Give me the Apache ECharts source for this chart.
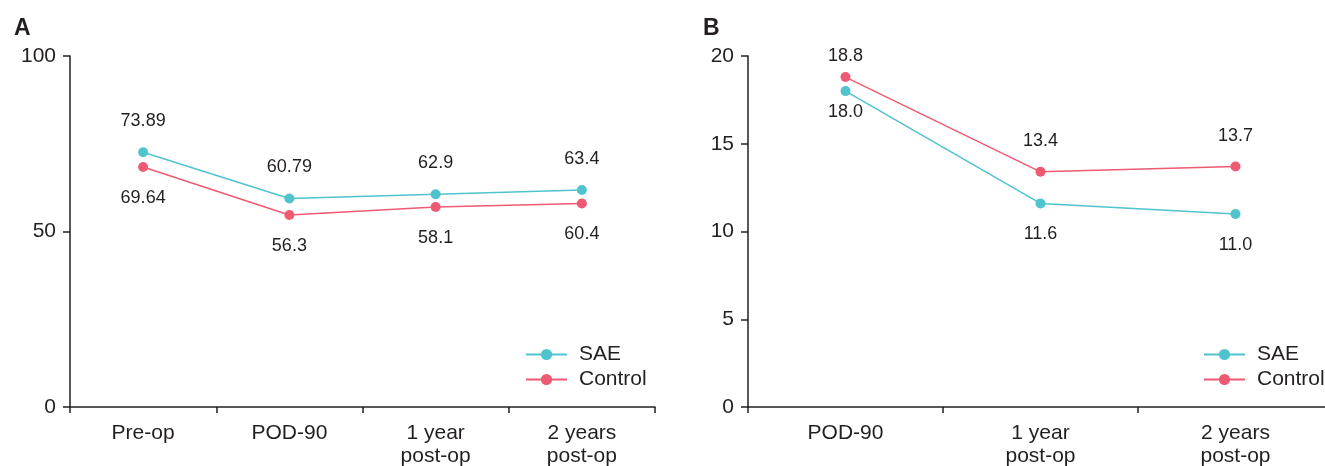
<!DOCTYPE html>
<html>
<head>
<meta charset="utf-8">
<script src="https://cdn.jsdelivr.net/npm/echarts@6/dist/echarts.min.js"></script>
<style>
html,body{margin:0;padding:0;background:#fff;}
#c{width:1325px;height:466px;}
</style>
</head>
<body>
<div id="c"></div>
<script>
// Panel A
var catsA = ['Pre-op', 'POD-90', '1 year\npost-op', '2 years\npost-op'];
var saeA = [72.6, 59.4, 60.6, 61.8];
var ctrlA = [68.4, 54.7, 57.0, 58.0];
var saeALabels = ['73.89', '60.79', '62.9', '63.4'];
var ctrlALabels = ['69.64', '56.3', '58.1', '60.4'];
var ticksA = [0, 50, 100];
// Panel B
var catsB = ['POD-90', '1 year\npost-op', '2 years\npost-op'];
var saeB = [18.0, 11.6, 11.0];
var ctrlB = [18.8, 13.4, 13.7];
var ticksB = [0, 5, 10, 15, 20];

var TEAL = '#50c3ce', RED = '#ee5a72', INK = '#231f20';
var FONT = 'Liberation Sans, Arial, sans-serif';

function xAxis(cats, gi) {
  return {
    type: 'category', gridIndex: gi, data: cats, boundaryGap: true,
    axisLine: {lineStyle: {color: INK, width: 1.5}},
    axisTick: {show: true, length: 6, lineStyle: {color: INK, width: 1.5}},
    axisLabel: {color: INK, fontSize: 21, fontFamily: FONT, lineHeight: 23, margin: 15}
  };
}
function yAxis(ticks, gi) {
  var step = ticks[1] - ticks[0];
  return {
    type: 'value', gridIndex: gi, min: ticks[0], max: ticks[ticks.length - 1], interval: step,
    axisLine: {show: true, lineStyle: {color: INK, width: 1.5}},
    axisTick: {show: true, length: 7, lineStyle: {color: INK, width: 1.5}},
    splitLine: {show: false},
    axisLabel: {color: INK, fontSize: 21, fontFamily: FONT, margin: 14}
  };
}
function lineSeries(name, color, vals, gi, pos, labels, firstDist) {
  return {
    name: name, type: 'line', xAxisIndex: gi, yAxisIndex: gi,
    symbol: 'circle', symbolSize: 10,
    itemStyle: {color: color}, lineStyle: {color: color, width: 1.5},
    data: vals.map(function (v, i) {
      var d = {value: v};
      if (i === 0 && firstDist != null) d.label = {distance: firstDist};
      return d;
    }),
    label: {
      show: true, position: pos, distance: 17, color: INK, fontSize: 18, fontFamily: FONT,
      formatter: function (p) { return labels ? labels[p.dataIndex] : p.value.toFixed(1); }
    },
    animation: false
  };
}
function legend(left) {
  return {
    orient: 'vertical', left: left, top: 344, padding: 0, itemWidth: 41, itemHeight: 14, itemGap: 4,
    data: ['SAE', 'Control'], selectedMode: false,
    textStyle: {color: INK, fontSize: 21, fontFamily: FONT, padding: [0, 0, 0, 7]}
  };
}

var chart = echarts.init(document.getElementById('c'));
chart.setOption({
  animation: false,
  title: [
    {text: 'A', left: 9, top: 12, textStyle: {fontSize: 23, fontWeight: 'bold', color: INK, fontFamily: FONT}},
    {text: 'B', left: 698, top: 12, textStyle: {fontSize: 23, fontWeight: 'bold', color: INK, fontFamily: FONT}}
  ],
  grid: [
    {left: 70, top: 56, width: 585, height: 351, containLabel: false, outerBoundsMode: 'none'},
    {left: 748, top: 56, width: 585, height: 351, containLabel: false, outerBoundsMode: 'none'}
  ],
  xAxis: [xAxis(catsA, 0), xAxis(catsB, 1)],
  yAxis: [yAxis(ticksA, 0), yAxis(ticksB, 1)],
  legend: [legend(525), legend(1203)],
  series: [
    lineSeries('SAE', TEAL, saeA, 0, 'top', saeALabels, null),
    lineSeries('Control', RED, ctrlA, 0, 'bottom', ctrlALabels, null),
    lineSeries('SAE', TEAL, saeB, 1, 'bottom', null, 7),
    lineSeries('Control', RED, ctrlB, 1, 'top', null, 7)
  ]
});
</script>
</body>
</html>
